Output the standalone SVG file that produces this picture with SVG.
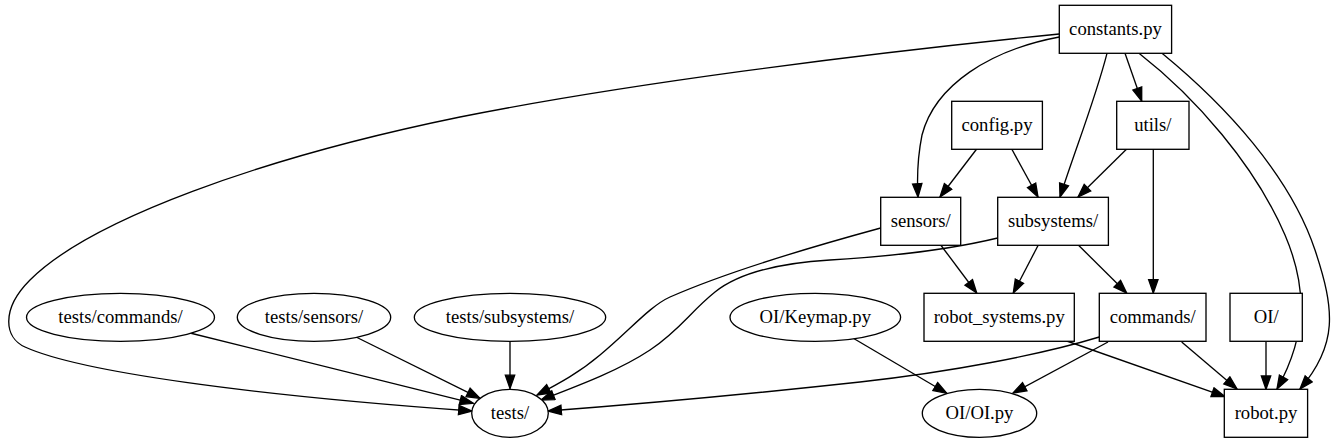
<svg xmlns="http://www.w3.org/2000/svg" width="1336" height="443" viewBox="0 0 1336 443">
<style>
.n rect, .n ellipse { fill: #ffffff; stroke: #000000; stroke-width: 1.33; }
.n text { font-family: 'Liberation Serif', 'Times New Roman', Times, 'DejaVu Serif', serif; font-size: 18.67px; text-anchor: middle; fill: #000000; }
#edges path { fill: none; stroke: #000000; stroke-width: 1.33; marker-end: url(#arr); }
</style>
<defs>
<marker id="arr" markerUnits="userSpaceOnUse" markerWidth="16" markerHeight="12" refX="13.3" refY="4.67" orient="auto" viewBox="-1 -1 16 12">
<path d="M0,0 L13.3,4.67 L0,9.33 Z" fill="#000000" stroke="#000000" stroke-width="1.33"/>
</marker>
</defs>
<rect x="0" y="0" width="1336" height="443" fill="#ffffff"/>
<g id="edges">
<path d="M1059.3,34 C850,55 620,85 460,117 C260,158 90,220 30,280 C0,310 5,338 25,347 C80,372 250,395 472,411"/>
<path d="M1059.3,37 C990,50 935,85 922,135 C917,160 917,180 918,197"/>
<path d="M1107,53.3 C1095,100 1075,150 1060,197"/>
<path d="M1125,53.3 L1141.7,101"/>
<path d="M1139,53.3 C1195,97 1255,165 1285,235 C1305,282 1310,330 1277,389"/>
<path d="M1162,53.3 C1225,105 1290,175 1315,250 C1335,310 1338,345 1300,389"/>
<path d="M976.7,149 L940,197"/>
<path d="M1011.7,149 L1038,197"/>
<path d="M1126.7,149 L1078,197"/>
<path d="M1153.3,149 L1153.3,293"/>
<path d="M940.7,245 L976.7,293"/>
<path d="M1038.3,245 L1013.3,293"/>
<path d="M1078.3,245 L1126.7,293"/>
<path d="M880.7,228 C800,250 720,275 670,297 C650,306 630,330 600,355 C580,372 560,383 537,395"/>
<path d="M997.7,238 C940,252 880,257 830,260 C780,263 740,272 715,292 C690,312 680,330 650,350 C620,370 580,385 541,400"/>
<path d="M1099.3,337 C1040,355 950,372 860,382 C750,394 640,404 548,411"/>
<path d="M1108,342 L1013,393"/>
<path d="M1181.7,342 L1237,389"/>
<path d="M1066.7,341 L1225,396.7"/>
<path d="M1266,341.7 L1266,389.3"/>
<path d="M853.3,338.3 L946.7,393.3"/>
<path d="M190,333 L473.3,403.3"/>
<path d="M356,337 L480,398.3"/>
<path d="M510,341 L510,388.5"/>
</g>
<g id="constants" class="n"><rect x="1059.3" y="5.3" width="112.3" height="48"/><text x="1115.5" y="34.9" font-family="Liberation Serif, serif">constants.py</text></g>
<g id="config" class="n"><rect x="951.7" y="101.3" width="90.7" height="48"/><text x="997" y="130.9">config.py</text></g>
<g id="utils" class="n"><rect x="1116.7" y="101.3" width="72.3" height="48"/><text x="1152.8" y="130.9">utils/</text></g>
<g id="sensors" class="n"><rect x="880.7" y="197.3" width="80" height="48"/><text x="920.7" y="226.9">sensors/</text></g>
<g id="subsystems" class="n"><rect x="997.7" y="197.3" width="110.7" height="48"/><text x="1053" y="226.9">subsystems/</text></g>
<g id="robot_systems" class="n"><rect x="924" y="293.3" width="150.3" height="48"/><text x="999.2" y="322.9">robot_systems.py</text></g>
<g id="commands" class="n"><rect x="1099.3" y="293.3" width="106.7" height="48"/><text x="1152.7" y="322.9">commands/</text></g>
<g id="oi" class="n"><rect x="1230" y="293.3" width="72.3" height="48"/><text x="1266.2" y="322.9">OI/</text></g>
<g id="robot" class="n"><rect x="1224.3" y="389.3" width="83.3" height="48"/><text x="1266" y="418.9">robot.py</text></g>
<g id="oi_oi" class="n"><ellipse cx="979.5" cy="413.3" rx="57.2" ry="24"/><text x="979.5" y="418.9">OI/OI.py</text></g>
<g id="oi_keymap" class="n"><ellipse cx="815.3" cy="317.3" rx="85.3" ry="24"/><text x="815.3" y="322.9">OI/Keymap.py</text></g>
<g id="tests_commands" class="n"><ellipse cx="120.5" cy="317.3" rx="94" ry="24"/><text x="120.5" y="322.9">tests/commands/</text></g>
<g id="tests_sensors" class="n"><ellipse cx="314" cy="317.3" rx="76.7" ry="24"/><text x="314" y="322.9">tests/sensors/</text></g>
<g id="tests_subsystems" class="n"><ellipse cx="510" cy="317.3" rx="95.7" ry="24"/><text x="510" y="322.9">tests/subsystems/</text></g>
<g id="tests" class="n"><ellipse cx="510" cy="413.3" rx="38.3" ry="24"/><text x="510" y="418.9">tests/</text></g>
</svg>
